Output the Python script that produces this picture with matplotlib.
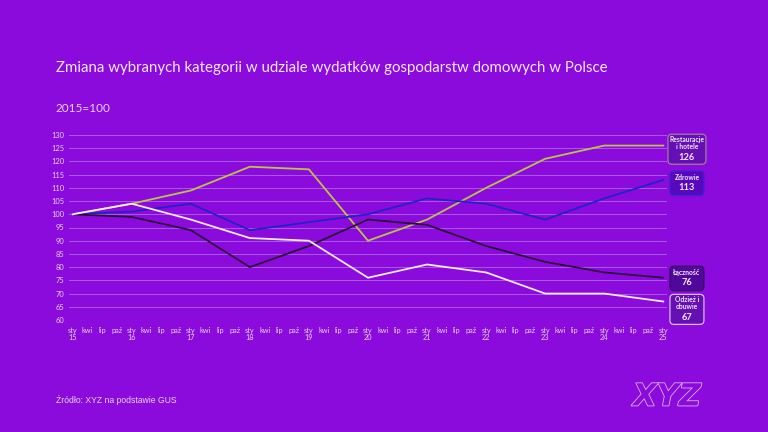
import matplotlib
matplotlib.use("Agg")
import matplotlib.pyplot as plt
import matplotlib.patheffects as pe
from matplotlib.patches import FancyBboxPatch
from matplotlib.transforms import Bbox, IdentityTransform

# dane (styczeń każdego roku), 2015=100
lata = ["15", "16", "17", "18", "19", "20", "21", "22", "23", "24", "25"]
restauracje = [100, 104, 109, 118, 117, 90, 98, 110, 121, 126, 126]
zdrowie = [100, 101, 104, 94, 97, 100, 106, 104, 98, 106, 113]
lacznosc = [100, 99, 94, 80, 88, 98, 96, 88, 82, 78, 76]
odziez = [100, 104, 98, 91, 90, 76, 81, 78, 70, 70, 67]
miesiace = ["sty", "kwi", "lip", "paź"]

nazwy = ["Restauracje\ni hotele", "Zdrowie", "Łączność", "Odzież i\nobuwie"]
serie = [restauracje, zdrowie, lacznosc, odziez]

tlo = "#8b0bdc"
kolor_tekst = "#e6d2fa"
kolor_siatka = "#a95ae6"
kolory = ["#bcc448", "#2222c4", "#2b0c3c", "#f6eaff"]
ramki = ["#a08098", "#3c24d0", "#3a1060", "#d8b8f0"]
wypelnienia = ["#6410b4", "#5808bc", "#50089c", "#6410b4"]
przesun = [-1.0, -1.0, 0.0, -2.6]   # przesunięcie ramek w jednostkach osi y

plt.rcParams['font.family'] = ['Lato', 'DejaVu Sans']

fig = plt.figure(figsize=(7.68, 4.32), dpi=100, facecolor=tlo)
ax = fig.add_axes([69 / 768, 1 - 320 / 432, (667 - 69) / 768, 185 / 432])
ax.set_facecolor(tlo)

xs = [i * 4 for i in range(len(lata))]
for s, c in zip(serie, kolory):
    ax.plot(xs, s, color=c, linewidth=1.3, solid_joinstyle="miter", zorder=3)

ax.set_xlim(-0.25, 40.25)
ax.set_ylim(60, 130)
ax.set_yticks(range(60, 131, 5))
ticks = list(range(0, 41))
etykiety = []
for t in ticks:
    m = miesiace[t % 4]
    if t % 4 == 0:
        etykiety.append(m + "\n" + lata[t // 4])
    else:
        etykiety.append(m)
ax.set_xticks(ticks)
ax.set_xticklabels(etykiety, fontsize=5.3, color=kolor_tekst, linespacing=0.95, va="top")
ax.tick_params(axis="y", labelsize=5.4, colors=kolor_tekst, length=0, pad=3)
ax.tick_params(axis="x", length=0, pad=5, colors=kolor_tekst)
ax.grid(axis="y", color=kolor_siatka, linewidth=0.7, zorder=0)
for sp in ax.spines.values():
    sp.set_visible(False)

# etykiety na końcu linii: nazwa nad wartością, ramka wokół obu
pary = []
for s, nazwa, dy in zip(serie, nazwy, przesun):
    xc = xs[-1] + 1.6
    yc = s[-1] + dy
    n = nazwa.count("\n") + 1
    t1 = ax.annotate(nazwa, xy=(xc, yc), xytext=(0, 3.6), textcoords="offset points",
                     ha="center", va="center", fontsize=4.9, fontweight="bold",
                     color="#f2e6ff", linespacing=1.0, zorder=7, annotation_clip=False)
    t2 = ax.annotate(str(s[-1]), xy=(xc, yc), xytext=(0, 3.6 - 2.9 * n - 4.3),
                     textcoords="offset points", ha="center", va="center", fontsize=6.7,
                     fontweight="bold", color="#f2e6ff", zorder=7, annotation_clip=False)
    pary.append((t1, t2, n))

fig.text(56 / 768, 1 - 68 / 432, "Zmiana wybranych kategorii w udziale wydatków gospodarstw domowych w Polsce",
         fontsize=10.8, color="#f4e8ff", va="center", ha="left")
fig.text(56 / 768, 1 - 108 / 432, "2015=100", fontsize=8.5, color=kolor_tekst, va="center", ha="left")
fig.text(56 / 768, 1 - 400 / 432, "Źródło: XYZ na podstawie GUS", fontsize=6.2,
         color=kolor_tekst, va="center", ha="left", family=["Liberation Sans", "DejaVu Sans"])

logo = fig.text(667 / 768, 1 - 397 / 432, "XYZ", fontsize=22, fontweight="bold", fontstyle="italic",
                color=tlo, ha="center", va="center", family=["DejaVu Sans"])
logo.set_path_effects([pe.Stroke(linewidth=1.2, foreground="#d8b4f4"), pe.Normal()])

fig.canvas.draw()
rend = fig.canvas.get_renderer()
for (t1, t2, n), r, f in zip(pary, ramki, wypelnienia):
    bb = Bbox.union([t1.get_window_extent(rend), t2.get_window_extent(rend)])
    szer = max(bb.width, 31)
    xc = (bb.x0 + bb.x1) / 2
    ekstra = 1.0 if n == 1 else 0.0
    box = FancyBboxPatch((xc - szer / 2, bb.y0 - 1 - ekstra), szer, bb.height + 1.5 + 2 * ekstra,
                         boxstyle="round,pad=1.5,rounding_size=4", fc=f, ec=r, lw=0.9,
                         transform=IdentityTransform(), zorder=5, clip_on=False)
    ax.add_artist(box)

fig.savefig("out.png", dpi=100, facecolor=tlo)
